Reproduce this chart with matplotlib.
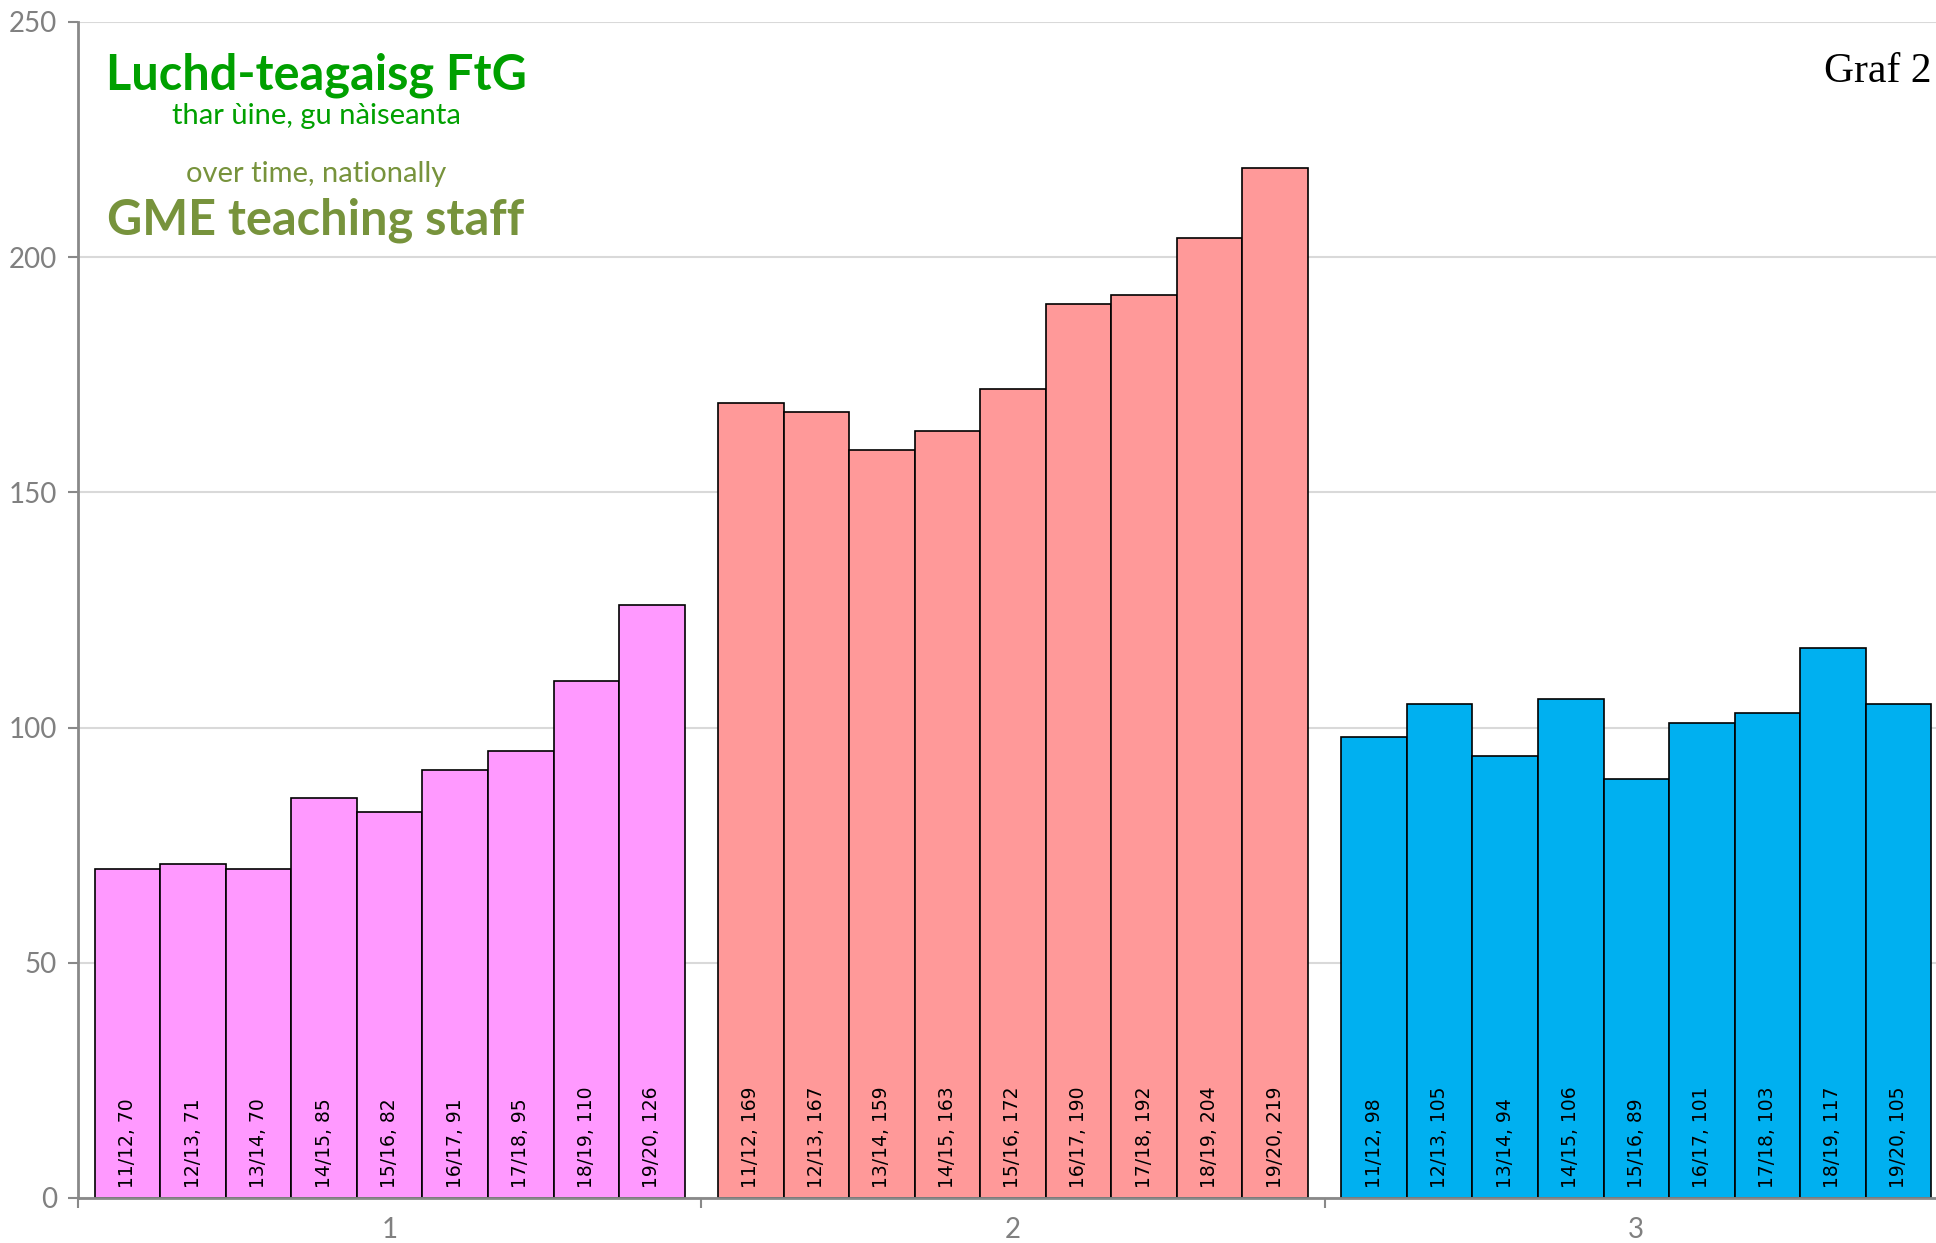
import matplotlib.pyplot as plt
import numpy as np

groups = ["1", "2", "3"]
years = ["11/12", "12/13", "13/14", "14/15", "15/16", "16/17", "17/18", "18/19", "19/20"]
group1 = [70, 71, 70, 85, 82, 91, 95, 110, 126]
group2 = [169, 167, 159, 163, 172, 190, 192, 204, 219]
group3 = [98, 105, 94, 106, 89, 101, 103, 117, 105]
colors = ["#FF99FF", "#FF9999", "#00B0F0"]

W, H = 1936, 1243
fig = plt.figure(figsize=(W / 100, H / 100), dpi=100)
# axes spans past the right edge, like the original
ax = fig.add_axes([78 / W, 45 / H, (1948 - 78) / W, (1198 - 22) / H])

n = len(years)
occupied = 0.9465
bw = occupied / n
grey = "#898989"

for gi, vals in enumerate([group1, group2, group3]):
    x = gi - occupied / 2 + bw * (np.arange(n) + 0.5)
    ax.bar(x, vals, width=bw, color=colors[gi], edgecolor="black", linewidth=1.2, zorder=3)
    for xi, yr, v in zip(x, years, vals):
        ax.text(xi, 2.2, f"{yr}, {v}", rotation=90, ha="center", va="bottom",
                fontsize=13.5, color="black", family="DejaVu Sans", zorder=4)

ax.set_xlim(-0.5, 2.5)
ax.set_ylim(0, 250)
ax.set_yticks(range(0, 251, 50))
ax.yaxis.grid(True, color="#D9D9D9", linewidth=1.5, zorder=0)
ax.set_axisbelow(True)

ax.set_xticks([0, 1, 2])
ax.set_xticklabels(groups)
ax.set_xticks([-0.5, 0.5, 1.5, 2.5], minor=True)
ax.tick_params(axis="x", which="major", length=0, pad=14, labelsize=20, labelcolor="#808080")
ax.tick_params(axis="x", which="minor", length=7, width=1.5, color=grey, direction="out")
ax.tick_params(axis="y", length=7, width=1.5, color=grey, labelsize=20, labelcolor="#808080", pad=8)
for lab in ax.get_xticklabels() + ax.get_yticklabels():
    lab.set_family("Lato")

for s in ["top", "right"]:
    ax.spines[s].set_visible(False)
for s in ["left", "bottom"]:
    ax.spines[s].set_color(grey)
    ax.spines[s].set_linewidth(2)
    ax.spines[s].set_zorder(5)

green = "#00A000"
olive = "#77933C"
cx = 316 / W
fig.text(cx, 1 - 75 / H, "Luchd-teagaisg FtG", ha="center", va="center", fontsize=35,
         color=green, family="Lato", weight="bold")
fig.text(cx, 1 - 116 / H, "thar ùine, gu nàiseanta", ha="center", va="center", fontsize=21,
         color=green, family="Lato")
fig.text(cx, 1 - 174 / H, "over time, nationally", ha="center", va="center", fontsize=21,
         color=olive, family="Lato")
fig.text(cx, 1 - 220 / H, "GME teaching staff", ha="center", va="center", fontsize=35,
         color=olive, family="Lato", weight="bold")
fig.text(1931 / W, 1 - 72 / H, "Graf 2", ha="right", va="center", fontsize=30,
         color="black", family="Liberation Serif")

fig.savefig("out.png", dpi=100)
